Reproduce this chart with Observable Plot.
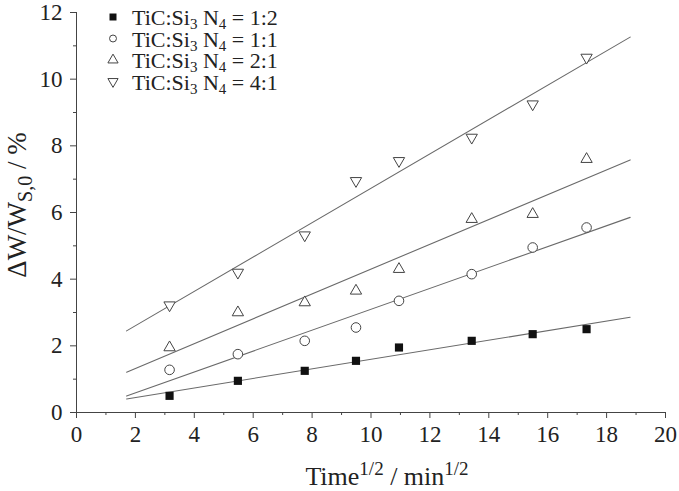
<!DOCTYPE html>
<html><head><meta charset="utf-8">
<script src="https://cdn.jsdelivr.net/npm/d3@7"></script>
<script src="https://cdn.jsdelivr.net/npm/@observablehq/plot@0.6"></script>
<style>body{margin:0;background:#fff} svg text{font-family:"Liberation Serif","Times New Roman",serif}</style>
</head><body><div id="chart"></div>
<script>
const xs = [3.16, 5.48, 7.75, 9.49, 10.95, 13.42, 15.49, 17.32];
const y12 = [0.5, 0.95, 1.25, 1.55, 1.95, 2.15, 2.35, 2.5];
const y11 = [1.28, 1.75, 2.15, 2.55, 3.35, 4.15, 4.95, 5.55];
const y21 = [1.95, 3.0, 3.3, 3.65, 4.3, 5.8, 5.95, 7.6];
const y41 = [3.22, 4.2, 5.32, 6.95, 7.55, 8.25, 9.25, 10.65];
const seriesNames = ["1:2", "1:1", "2:1", "4:1"];
const fitRange = [1.7, 18.8];
const xMajor = [0, 2, 4, 6, 8, 10, 12, 14, 16, 18, 20];
const xMinor = [1, 3, 5, 7, 9, 11, 13, 15, 17, 19];
const yMajor = [0, 2, 4, 6, 8, 10, 12];
const yMinor = [1, 3, 5, 7, 9, 11];

const triDown = {draw(ctx, size) {
  const s = Math.sqrt(size / (Math.sqrt(3) / 4));
  const h = s * Math.sqrt(3) / 2;
  ctx.moveTo(-s/2, -h/3); ctx.lineTo(s/2, -h/3); ctx.lineTo(0, 2*h/3); ctx.closePath();
}};
const triUp = {draw(ctx, size) {
  const s = Math.sqrt(size / (Math.sqrt(3) / 4));
  const h = s * Math.sqrt(3) / 2;
  ctx.moveTo(-s/2, h/3); ctx.lineTo(s/2, h/3); ctx.lineTo(0, -2*h/3); ctx.closePath();
}};

const allY = [y12, y11, y21, y41];
const pts = [];
allY.forEach((ys, k) => ys.forEach((y, i) => pts.push({x: xs[i], y, s: seriesNames[k]})));

function fit(ys) {
  const mx = d3.mean(xs), my = d3.mean(ys);
  const b = d3.sum(xs, (x, i) => (x - mx) * (ys[i] - my)) / d3.sum(xs, x => (x - mx) ** 2);
  const a = my - b * mx;
  return fitRange.map(x => ({x, y: a + b * x}));
}
const lines = allY.map((ys, k) => fit(ys).map(d => ({...d, s: seriesNames[k]}))).flat();

const ff = "'Liberation Serif', 'Times New Roman', serif";
const sub = s => pts.filter(d => d.s === s);
const plot = Plot.plot({
  width: 679, height: 491,
  marginLeft: 76, marginRight: 14, marginTop: 12, marginBottom: 79,
  style: {fontFamily: ff, fontSize: "23px", color: "#222", background: "#fff"},
  x: {domain: [0, 20]},
  y: {domain: [0, 12]},
  marks: [
    Plot.axisX(xMajor, {tickSize: 6, tickPadding: 7, label: null, fontSize: 23, stroke: "#444"}),
    Plot.axisX(xMinor, {tickSize: 3, text: null, label: null, stroke: "#444"}),
    Plot.axisY(yMajor, {tickSize: 6, tickPadding: 8, label: null, fontSize: 23, stroke: "#444"}),
    Plot.axisY(yMinor, {tickSize: 3, text: null, label: null, stroke: "#444"}),
    Plot.ruleY([0], {stroke: "#444"}),
    Plot.ruleX([0], {stroke: "#444"}),
    Plot.line(lines, {x: "x", y: "y", z: "s", stroke: "#6a6a6a", strokeWidth: 1.1}),
    Plot.dot(sub("1:2"), {x: "x", y: "y", symbol: "square", r: 4.6, fill: "#111", stroke: "none"}),
    Plot.dot(sub("1:1"), {x: "x", y: "y", symbol: "circle", r: 4.8, fill: "white", stroke: "#444", strokeWidth: 1}),
    Plot.dot(sub("2:1"), {x: "x", y: "y", symbol: triUp, r: 4.2, fill: "white", stroke: "#444", strokeWidth: 1}),
    Plot.dot(sub("4:1"), {x: "x", y: "y", symbol: triDown, r: 4.2, fill: "white", stroke: "#444", strokeWidth: 1})
  ]
});
document.getElementById("chart").appendChild(plot);

const svg = d3.select(plot);
// legend
const legSyms = [d3.symbolSquare, d3.symbolCircle, triUp, triDown];
const legFill = ["#111", "white", "white", "white"];
const legStroke = ["none", "#444", "#444", "#444"];
const legSize = [49, 38, 45, 45];
seriesNames.forEach((name, i) => {
  const base = 25 + i * 21.5;
  svg.append("path").attr("d", d3.symbol(legSyms[i], legSize[i])())
    .attr("transform", `translate(113,${base - 8})`).attr("fill", legFill[i]).attr("stroke", legStroke[i]);
  const t = svg.append("text").attr("x", 132).attr("y", base).attr("text-anchor", "start")
    .attr("font-family", ff).attr("font-size", 22).attr("fill", "#222");
  t.append("tspan").text("TiC:Si");
  t.append("tspan").attr("dy", 4).attr("font-size", 15).text("3");
  t.append("tspan").attr("dy", -4).text(" N");
  t.append("tspan").attr("dy", 4).attr("font-size", 15).text("4");
  t.append("tspan").attr("dy", -4).text(" = " + name);
});
// y label
const yl = svg.append("text").attr("transform", "translate(26,205) rotate(-90)").attr("text-anchor", "middle")
  .attr("font-family", ff).attr("font-size", 27).attr("fill", "#222");
yl.append("tspan").text("ΔW/W");
yl.append("tspan").attr("dy", 6).attr("font-size", 20).text("S,0");
yl.append("tspan").attr("dy", -6).text(" / %");
// x label
const xl = svg.append("text").attr("x", 387).attr("y", 485).attr("text-anchor", "middle")
  .attr("font-family", ff).attr("font-size", 26).attr("fill", "#222");
xl.append("tspan").text("Time");
xl.append("tspan").attr("dy", -10).attr("font-size", 19).text("1/2");
xl.append("tspan").attr("dy", 10).text(" / min");
xl.append("tspan").attr("dy", -10).attr("font-size", 19).text("1/2");
</script></body></html>
